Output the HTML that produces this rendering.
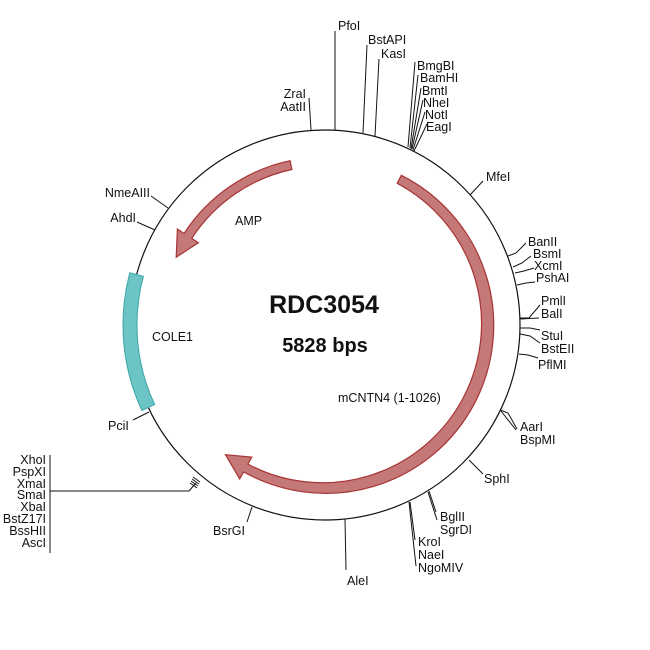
<!DOCTYPE html>
<html><head><meta charset="utf-8"><style>
html,body{margin:0;padding:0;background:#fff;}
svg{display:block;font-family:"Liberation Sans",Arial,sans-serif;}
text{font-size:12.5px;fill:#111;}
.r{text-anchor:end;}
line,polyline{stroke:#111;stroke-width:1;fill:none;}
</style></head><body>
<svg id="s" width="650" height="650" viewBox="0 0 650 650" xmlns="http://www.w3.org/2000/svg">
<circle cx="325" cy="325" r="195" fill="none" stroke="#111" stroke-width="1.2"/>
<path id="cole" fill="#6cc4c4" stroke="#3aa6a6" stroke-width="1"/>
<path id="mc" fill="#c47878" stroke="#a83434" stroke-width="1.2"/>
<path id="amp" fill="#c47878" stroke="#a83434" stroke-width="1.2"/>

<line x1="335" y1="130" x2="335" y2="31"/><text x="338" y="30">PfoI</text>
<line x1="363" y1="133" x2="367" y2="45"/><text x="368" y="44">BstAPI</text>
<line x1="375" y1="136" x2="379" y2="59"/><text x="381" y="58">KasI</text>
<line x1="311" y1="130" x2="309" y2="98"/><text class="r" x="306" y="98">ZraI</text><text class="r" x="306" y="111">AatII</text>
<line x1="408" y1="147" x2="415" y2="62"/>
<line x1="410" y1="148" x2="418" y2="75"/>
<line x1="411" y1="149" x2="421" y2="88"/>
<line x1="412" y1="149" x2="423" y2="100"/>
<line x1="413" y1="150" x2="425" y2="112"/>
<line x1="414" y1="151" x2="427" y2="124"/>
<text x="417" y="70">BmgBI</text><text x="420" y="82">BamHI</text><text x="422" y="95">BmtI</text>
<text x="423" y="107">NheI</text><text x="425" y="119">NotI</text><text x="426" y="131">EagI</text>
<line x1="470" y1="195" x2="483" y2="181"/><text x="486" y="181">MfeI</text>
<polyline points="508,256 516,253 526,243"/><text x="528" y="246">BanII</text>
<polyline points="513,267 522,263 531,256"/><text x="533" y="258">BsmI</text>
<polyline points="515,273 524,271 534,268"/><text x="534" y="270">XcmI</text>
<polyline points="517,285 526,283 535,282"/><text x="536" y="282">PshAI</text>
<polyline points="520,318 529,318 540,305"/><line x1="520" y1="319" x2="539" y2="318"/>
<text x="541" y="305">PmlI</text><text x="541" y="318">BalI</text>
<polyline points="520,328 530,328 540,330"/><polyline points="520,334 530,336 540,343"/>
<polyline points="519,354 528,355 538,358"/>
<text x="541" y="340">StuI</text><text x="541" y="353">BstEII</text><text x="538" y="369">PflMI</text>
<polyline points="500,410 508,413 517,429"/><line x1="501" y1="411" x2="516" y2="430"/>
<text x="520" y="431">AarI</text><text x="520" y="444">BspMI</text>
<line x1="469" y1="460" x2="483" y2="474"/><text x="484" y="483">SphI</text>
<line x1="428" y1="492" x2="437" y2="520"/><line x1="429" y1="491" x2="436" y2="512"/>
<text x="440" y="521">BglII</text><text x="440" y="534">SgrDI</text>
<line x1="409" y1="502" x2="416" y2="566"/><line x1="410" y1="502" x2="415" y2="540"/>
<text x="418" y="546">KroI</text><text x="418" y="559">NaeI</text><text x="418" y="572">NgoMIV</text>
<line x1="345" y1="519" x2="346" y2="570"/><text x="347" y="585">AleI</text>
<line x1="252" y1="507" x2="247" y2="522"/><text class="r" x="245" y="535">BsrGI</text>
<line x1="193" y1="477" x2="200" y2="482"/><line x1="192" y1="479" x2="199" y2="484"/>
<line x1="191" y1="481" x2="198" y2="486"/><line x1="190" y1="483" x2="197" y2="488"/>
<polyline points="196,483 189,491 50,491"/>
<line x1="50" y1="455" x2="50" y2="553"/>
<text class="r" x="46" y="464">XhoI</text><text class="r" x="46" y="476">PspXI</text>
<text class="r" x="46" y="488">XmaI</text><text class="r" x="46" y="499">SmaI</text>
<text class="r" x="46" y="511">XbaI</text><text class="r" x="46" y="523">BstZ17I</text>
<text class="r" x="46" y="535">BssHII</text><text class="r" x="46" y="547">AscI</text>
<line x1="149" y1="412" x2="133" y2="420"/><text x="108" y="430">PciI</text>
<line x1="137" y1="222" x2="155" y2="230"/><text class="r" x="136" y="222">AhdI</text>
<line x1="151" y1="196" x2="168" y2="208"/><text class="r" x="150" y="197">NmeAIII</text>
<text x="235" y="225">AMP</text>
<text x="152" y="341">COLE1</text>
<text x="338" y="402">mCNTN4 (1-1026)</text>
<text x="324" y="313" text-anchor="middle" style="font-size:25px;font-weight:bold">RDC3054</text>
<text x="325" y="352" text-anchor="middle" style="font-size:20px;font-weight:bold">5828 bps</text>
</svg>
<script>
var cx=325,cy=325;
function P(r,a){a=a*Math.PI/180;return [(cx+r*Math.sin(a)).toFixed(1),(cy-r*Math.cos(a)).toFixed(1)];}
function band(r1,r2,a1,a2){var l=Math.abs(a2-a1)>180?1:0;var s=a2>a1?1:0;
 var A=P(r2,a1),B=P(r2,a2),C=P(r1,a2),D=P(r1,a1);
 return "M"+A+" A"+r2+","+r2+" 0 "+l+" "+s+" "+B+" L"+C+" A"+r1+","+r1+" 0 "+l+" "+(1-s)+" "+D+"Z";}
function arrow(r1,r2,a1,ab,at,w){var l=Math.abs(ab-a1)>180?1:0;var s=ab>a1?1:0;var rm=(r1+r2)/2;
 var A=P(r2,a1),B=P(r2,ab),B2=P(r2+w,ab),T=P(rm,at),C2=P(r1-w,ab),C=P(r1,ab),D=P(r1,a1);
 return "M"+A+" A"+r2+","+r2+" 0 "+l+" "+s+" "+B+" L"+B2+" L"+T+" L"+C2+" L"+C+" A"+r1+","+r1+" 0 "+l+" "+(1-s)+" "+D+"Z";}
document.getElementById("cole").setAttribute("d",band(188,202,245,285));
document.getElementById("mc").setAttribute("d",arrow(159,168,27,209,217.5,8));
document.getElementById("amp").setAttribute("d",arrow(159,168,-12,-57,-65.5,8));
</script>
</body></html>
